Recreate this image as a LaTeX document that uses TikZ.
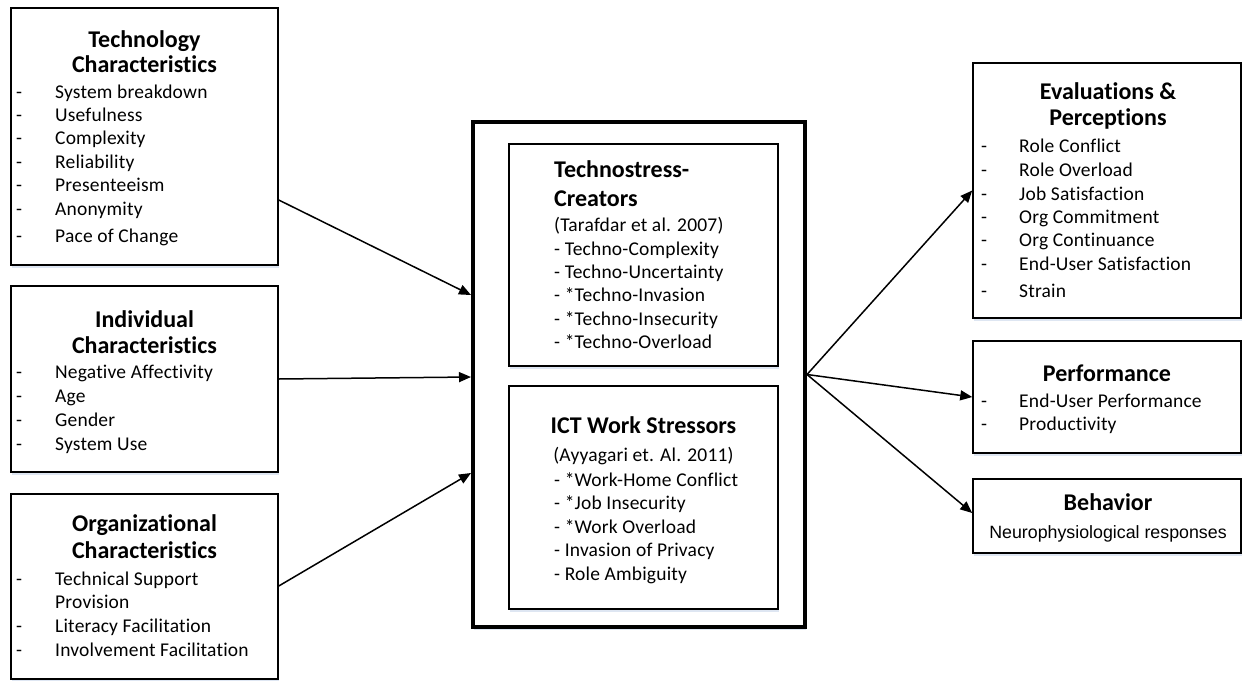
\documentclass[tikz,border=0pt]{standalone}
\usepackage{fontspec}
\setmainfont{Carlito}[Ligatures=NoCommon]
\newfontfamily\itemfont{Carlito}[Ligatures=NoCommon, LetterSpace=1.0]
\newfontfamily\arialfont{Liberation Sans}
\usetikzlibrary{arrows.meta,shadows}
\definecolor{shadowblue}{RGB}{222,230,242}
% list line: a hyphen in a fixed-width slot, then the entry
\newcommand\dashitem[2][39pt]{\makebox[#1][l]{-}#2}

\begin{document}
\begin{tikzpicture}[x=1pt,y=-1pt,
  box/.style={draw, fill=white, line width=1.5pt, inner sep=0pt,
    drop shadow={shadow xshift=0.5pt, shadow yshift=-2.5pt, fill=shadowblue, opacity=1}},
  bigbox/.style={box, line width=4pt},
  title/.style={font=\fontsize{24}{28}\selectfont\bfseries, inner sep=0pt, anchor=base},
  ltitle/.style={title, anchor=base west},
  item/.style={font=\fontsize{19.5}{23}\itemfont, inner sep=0pt, anchor=base west},
  citem/.style={item, anchor=base},
  arial/.style={font=\fontsize{17.8}{21}\arialfont, inner sep=0pt, anchor=base},
  link/.style={line width=1.5pt, -{Triangle[length=12pt,width=10pt]}}
]
\useasboundingbox (0,0) rectangle (1246,680);

% ---------- boxes ----------
\node[box, minimum width=267pt, minimum height=257pt] (tech)  at (144.5,136.5) {};
\node[box, minimum width=267pt, minimum height=186pt] (indiv) at (144.5,379) {};
\node[box, minimum width=267pt, minimum height=185pt] (org)   at (144.5,586.5) {};
\node[bigbox, minimum width=332pt, minimum height=505pt] (central) at (639,374.5) {};
\node[box, minimum width=269pt, minimum height=222pt] (creators) at (643.5,255) {};
\node[box, minimum width=269pt, minimum height=223pt] (ict)      at (643.5,497.5) {};
\node[box, minimum width=268pt, minimum height=255pt] (eval)  at (1107,190.5) {};
\node[box, minimum width=268pt, minimum height=112pt] (perf)  at (1107,397) {};
\node[box, minimum width=268pt, minimum height=74pt]  (behav) at (1107,516) {};

% ---------- technology characteristics ----------
\node[title] (tech-t1) at (144.5,47) {Technology};
\node[title] (tech-t2) at (144.5,72.5) {Characteristics};
\node[item] (tech-1) at (16,98.5)  {\dashitem{System breakdown}};
\node[item] (tech-2) at (16,121)   {\dashitem{Usefulness}};
\node[item] (tech-3) at (16,144.5) {\dashitem{Complexity}};
\node[item] (tech-4) at (16,168)   {\dashitem{Reliability}};
\node[item] (tech-5) at (16,191.5) {\dashitem{Presenteeism}};
\node[item] (tech-6) at (16,215)   {\dashitem{Anonymity}};
\node[item] (tech-7) at (16,242)   {\dashitem{Pace of Change}};

% ---------- individual characteristics ----------
\node[title] (indiv-t1) at (144.5,327.5) {Individual};
\node[title] (indiv-t2) at (144.5,353.3) {Characteristics};
\node[item] (indiv-1) at (16,378.5) {\dashitem{Negative Affectivity}};
\node[item] (indiv-2) at (16,402)   {\dashitem{Age}};
\node[item] (indiv-3) at (16,426)   {\dashitem{Gender}};
\node[item] (indiv-4) at (16,450)   {\dashitem{System Use}};

% ---------- organizational characteristics ----------
\node[title] (org-t1) at (144.5,531.7) {Organizational};
\node[title] (org-t2) at (144.5,558.3) {Characteristics};
\node[item] (org-1)  at (16,585)    {\dashitem{Technical Support}};
\node[item] (org-1b) at (55,608.3)  {Provision};
\node[item] (org-2)  at (16,632.3)  {\dashitem{Literacy Facilitation}};
\node[item] (org-3)  at (16,656.7)  {\dashitem{Involvement Facilitation}};

% ---------- technostress creators ----------
\node[ltitle] (cr-t1) at (554,177.3) {Technostress-};
\node[ltitle] (cr-t2) at (554,206.7) {Creators};
\node[item] (cr-ref) at (554,231.7) {(Tarafdar et al. 2007)};
\node[item] (cr-1) at (554,255)   {- Techno-Complexity};
\node[item] (cr-2) at (554,278.3) {- Techno-Uncertainty};
\node[item] (cr-3) at (554,301.7) {- *Techno-Invasion};
\node[item] (cr-4) at (554,325.3) {- *Techno-Insecurity};
\node[item] (cr-5) at (554,348.7) {- *Techno-Overload};

% ---------- ICT work stressors ----------
\node[title] (ict-t) at (643.5,433.3) {ICT Work Stressors};
\node[citem] (ict-ref) at (643.5,461) {(Ayyagari et. Al. 2011)};
\node[item] (ict-1) at (554,486)   {- *Work-Home Conflict};
\node[item] (ict-2) at (554,509.3) {- *Job Insecurity};
\node[item] (ict-3) at (554,533.3) {- *Work Overload};
\node[item] (ict-4) at (554,556.7) {- Invasion of Privacy};
\node[item] (ict-5) at (554,580.7) {- Role Ambiguity};

% ---------- evaluations & perceptions ----------
\node[title] (ev-t1) at (1108,99.3) {Evaluations \&};
\node[title] (ev-t2) at (1108,125.5) {Perceptions};
\node[item] (ev-1) at (981,152.7) {\dashitem[38pt]{Role Conflict}};
\node[item] (ev-2) at (981,176)   {\dashitem[38pt]{Role Overload}};
\node[item] (ev-3) at (981,200)   {\dashitem[38pt]{Job Satisfaction}};
\node[item] (ev-4) at (981,223.3) {\dashitem[38pt]{Org Commitment}};
\node[item] (ev-5) at (981,246.7) {\dashitem[38pt]{Org Continuance}};
\node[item] (ev-6) at (981,270.7) {\dashitem[38pt]{End-User Satisfaction}};
\node[item] (ev-7) at (981,297.3) {\dashitem[38pt]{Strain}};

% ---------- performance ----------
\node[title] (pf-t) at (1107,381.7) {Performance};
\node[item] (pf-1) at (981,407.3) {\dashitem[38pt]{End-User Performance}};
\node[item] (pf-2) at (981,430)   {\dashitem[38pt]{Productivity}};

% ---------- behavior ----------
\node[title] (bh-t) at (1108,510.7) {Behavior};
\node[arial] (bh-1) at (1108,538.3) {Neurophysiological responses};

% ---------- connectors ----------
\draw[link] (tech.east |- 0,200)  -- (central.west |- 0,295);
\draw[link] (indiv.east |- 0,379) -- (central.west |- 0,377);
\draw[link] (org.east |- 0,586)   -- (central.west |- 0,473);
\draw[link] (central.east) -- (eval.west);
\draw[link] (central.east) -- (perf.west);
\draw[link] (central.east) -- (behav.west |- 0,513);
\end{tikzpicture}
\end{document}
